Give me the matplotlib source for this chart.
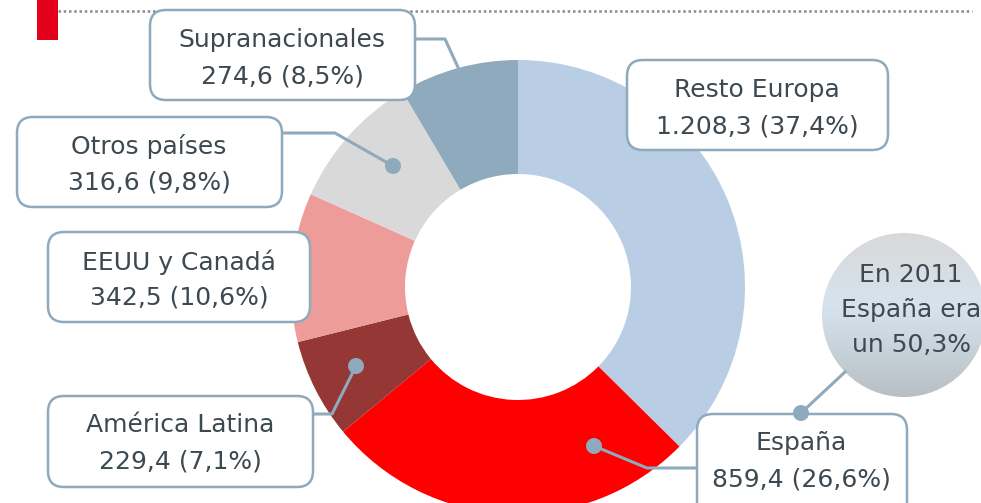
import numpy as np
import matplotlib
matplotlib.use("Agg")
import matplotlib.pyplot as plt
from matplotlib.patches import FancyBboxPatch, Circle, Rectangle

# data
labels = ["Resto Europa", "España", "América Latina", "EEUU y Canadá",
          "Otros países", "Supranacionales"]
amounts = ["1.208,3", "859,4", "229,4", "342,5", "316,6", "274,6"]
shares = [37.4, 26.6, 7.1, 10.6, 9.8, 8.5]
colors = ["#b9cde4", "#ff0000", "#953735", "#ee9c9a", "#d9d9d9", "#8eaabc"]
note_lines = ["En 2011", "España era", "un 50,3%"]

W, H = 981, 503
EDGE = "#8eaabc"
TXT = "#3d4951"
FS = 18


def fy(y):
    # pixel row (top-down) to data y
    return H - y


fig = plt.figure(figsize=(W / 100, H / 100), dpi=100)
ax = fig.add_axes([0, 0, 1, 1])

ax.pie(shares, colors=colors, radius=227, center=(518, fy(287)),
       startangle=90, counterclock=False,
       wedgeprops=dict(width=114, linewidth=0))
ax.set_xlim(0, W)
ax.set_ylim(0, H)
ax.set_aspect("equal")
ax.axis("off")

# header decoration
ax.add_patch(Rectangle((37, fy(40)), 21, 40, color="#e2001a", lw=0))
ax.plot([58, 972], [fy(11), fy(11)], color="#7d8d99", lw=1.8,
        linestyle=(0, (1, 1.1)))

# label boxes: (x0, y0, x1, y1), text centre x, first line y
boxes = {
    "Resto Europa": ((627, 60, 888, 150), 757, 90),
    "España": ((697, 414, 907, 520), 801, 443),
    "América Latina": ((48, 396, 313, 487), 180, 425),
    "EEUU y Canadá": ((48, 232, 310, 322), 179, 262),
    "Otros países": ((17, 117, 282, 207), 149, 146),
    "Supranacionales": ((150, 10, 415, 100), 282, 40),
}

# leader lines (pixel coords), ending in a dot
leaders = {
    "España": [(697, 468), (647, 468), (594, 446)],
    "América Latina": [(313, 414), (332, 414), (356, 366)],
    "Otros países": [(282, 133), (335, 133), (393, 166)],
    "Supranacionales": [(415, 39), (445, 39), (462, 76)],
}

for name, pts in leaders.items():
    xs = [p[0] for p in pts]
    ys = [fy(p[1]) for p in pts]
    ax.plot(xs, ys, color=EDGE, lw=2.2, solid_capstyle="butt", zorder=3)
    ax.add_patch(Circle((xs[-1], ys[-1]), 8, color=EDGE, lw=0, zorder=4))

for name, amt, pct in zip(labels, amounts, shares):
    (x0, y0, x1, y1), cx, ty = boxes[name]
    ax.add_patch(FancyBboxPatch((x0, fy(y1)), x1 - x0, y1 - y0,
                                boxstyle="round,pad=0,rounding_size=16",
                                fc="white", ec=EDGE, lw=1.8, zorder=5))
    pct_txt = f"{pct:.1f}".replace(".", ",")
    ax.text(cx, fy(ty), name, ha="center", va="center", fontsize=FS,
            color=TXT, zorder=6)
    ax.text(cx, fy(ty + 36), f"{amt} ({pct_txt}%)", ha="center",
            va="center", fontsize=FS, color=TXT, zorder=6)

# note bubble with vertical gradient
bx, by, br = 904, 315, 82
ax.plot([845, 801], [fy(372), fy(413)], color=EDGE, lw=2.2, zorder=3)
ax.add_patch(Circle((801, fy(413)), 8, color=EDGE, lw=0, zorder=7))
grad_stops = np.array([[0.0, 0.85, 0.85, 0.85],
                       [0.45, 0.84, 0.89, 0.93],
                       [1.0, 0.72, 0.75, 0.77]])
t = np.linspace(0, 1, 200)
img = np.stack([np.interp(t, grad_stops[:, 0], grad_stops[:, k])
                for k in range(1, 4)], axis=-1)[:, None, :]
clip = Circle((bx, fy(by)), br, transform=ax.transData)
im = ax.imshow(img, extent=(bx - br, bx + br, fy(by + br), fy(by - br)),
               aspect="auto", zorder=2, origin="upper")
im.set_clip_path(clip)
ax.set_xlim(0, W)
ax.set_ylim(0, H)
for i, line in enumerate(note_lines):
    ax.text(911, fy(275 + 35 * i), line, ha="center", va="center",
            fontsize=FS, color=TXT, zorder=6)

fig.savefig("out.png", dpi=100)
